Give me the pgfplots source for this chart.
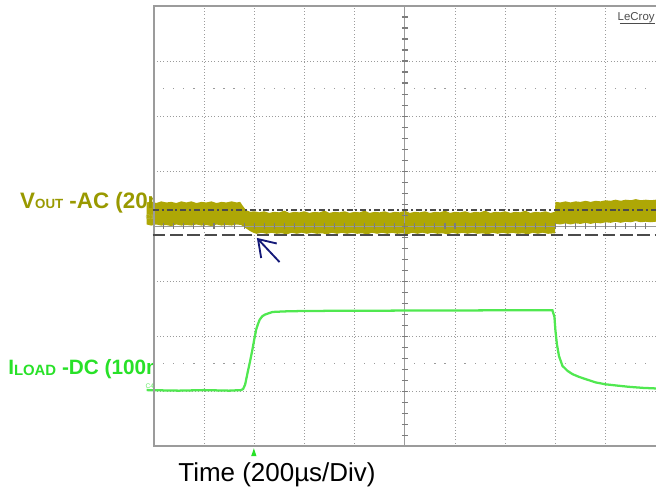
\documentclass[border=0pt]{standalone}
\usepackage{fontspec}
\setmainfont{Liberation Sans}
\usepackage{pgfplots}
\pgfplotsset{compat=1.18}
\usepgfplotslibrary{fillbetween}
\usetikzlibrary{arrows.meta}
\definecolor{voutc}{RGB}{153,153,0}
\definecolor{bandc}{RGB}{174,167,6}
\definecolor{iloadc}{RGB}{40,225,40}
\definecolor{itrace}{RGB}{80,232,80}
\definecolor{gridc}{RGB}{155,155,155}
\definecolor{navyarrow}{RGB}{20,25,120}
\definecolor{refline}{RGB}{75,75,75}

\begin{document}
\begin{tikzpicture}
% pixel frame: 1px = 0.75pt, y down
\begin{scope}[x=0.75pt,y=-0.75pt]
\useasboundingbox (0,0) rectangle (657,496);
% centre cross with small ticks
\draw[gridc, line width=0.8pt] (405.5,6) -- (405.5,447);
\draw[gridc, line width=0.8pt] (154,226.5) -- (657,226.5);
\foreach \i in {1,...,39} \draw[gridc!80!black, line width=0.8pt] (402.5,{6+\i*11.025}) -- (408.5,{6+\i*11.025});
\foreach \i in {1,...,49} \draw[gridc!80!black, line width=0.8pt] ({154+\i*10.06},223.5) -- ({154+\i*10.06},229.5);
% rows of sub-division dots
\foreach \d in {0,...,9} \foreach \k in {1,...,4} {
  \fill[gridc] ({154+50.3*(\d+0.2*\k)-0.6},88.1) rectangle ++(1.2,1.2);
  \fill[gridc] ({154+50.3*(\d+0.2*\k)-0.6},363.7) rectangle ++(1.2,1.2);
}
\end{scope}

\begin{axis}[
  at={(115.5pt,-335.25pt)}, anchor=south west,
  scale only axis, width=377.25pt, height=330.75pt,
  xmin=0, xmax=10, ymin=0, ymax=8,
  xtick={1,...,9}, ytick={1,...,7},
  xticklabels={}, yticklabels={},
  major tick length=0pt,
  grid=major,
  major grid style={gridc, dotted, line width=0.6pt},
  axis line style={draw=none},
  clip=false,
]
% V_OUT noise band, upper and lower envelope
\addplot[name path=vu, draw=none] table {
x y
-0.14 4.43
-0.05 4.45
0.05 4.42
0.15 4.45
0.25 4.43
0.35 4.44
0.45 4.42
0.55 4.45
0.65 4.43
0.75 4.45
0.85 4.42
0.95 4.44
1.05 4.43
1.15 4.45
1.25 4.42
1.35 4.44
1.45 4.43
1.55 4.45
1.65 4.43
1.72 4.44
1.78 4.36
1.84 4.29
1.92 4.26
2.00 4.27
2.10 4.25
2.20 4.27
2.30 4.24
2.40 4.26
2.50 4.25
2.60 4.28
2.70 4.24
2.80 4.26
2.90 4.25
3.00 4.27
3.10 4.24
3.20 4.26
3.30 4.25
3.40 4.28
3.50 4.24
3.60 4.26
3.70 4.25
3.80 4.27
3.90 4.24
4.00 4.26
4.10 4.25
4.20 4.28
4.30 4.24
4.40 4.26
4.50 4.25
4.60 4.27
4.70 4.24
4.80 4.26
4.90 4.25
5.00 4.28
5.10 4.24
5.20 4.26
5.30 4.25
5.40 4.27
5.50 4.24
5.60 4.26
5.70 4.25
5.80 4.28
5.90 4.24
6.00 4.26
6.10 4.25
6.20 4.27
6.30 4.24
6.40 4.26
6.50 4.25
6.60 4.28
6.70 4.24
6.80 4.26
6.90 4.25
7.00 4.27
7.10 4.24
7.20 4.26
7.30 4.25
7.40 4.28
7.50 4.24
7.60 4.26
7.70 4.25
7.80 4.27
7.90 4.24
7.99 4.26
8.00 4.44
8.10 4.43
8.20 4.45
8.30 4.43
8.40 4.45
8.50 4.44
8.60 4.46
8.70 4.44
8.80 4.46
8.90 4.45
9.00 4.47
9.10 4.46
9.20 4.48
9.30 4.46
9.40 4.48
9.50 4.47
9.60 4.49
9.70 4.47
9.80 4.48
9.90 4.47
10.00 4.48
};
\addplot[name path=vl, draw=none] table {
x y
-0.14 4.03
-0.05 4.01
0.05 4.03
0.15 4.01
0.25 4.02
0.35 4.00
0.45 4.03
0.55 4.01
0.65 4.02
0.75 4.01
0.85 4.03
0.95 4.01
1.05 4.02
1.15 4.00
1.25 4.03
1.35 4.01
1.45 4.02
1.55 4.01
1.65 4.03
1.74 4.02
1.82 3.97
1.90 3.92
1.98 3.88
2.05 3.86
2.15 3.88
2.25 3.86
2.35 3.88
2.45 3.86
2.55 3.87
2.65 3.85
2.75 3.88
2.85 3.86
2.95 3.88
3.05 3.86
3.15 3.88
3.25 3.86
3.35 3.87
3.45 3.85
3.55 3.88
3.65 3.86
3.75 3.88
3.85 3.86
3.95 3.88
4.05 3.86
4.15 3.87
4.25 3.85
4.35 3.88
4.45 3.86
4.55 3.88
4.65 3.86
4.75 3.88
4.85 3.86
4.95 3.87
5.05 3.85
5.15 3.88
5.25 3.86
5.35 3.88
5.45 3.86
5.55 3.88
5.65 3.86
5.75 3.87
5.85 3.85
5.95 3.88
6.05 3.86
6.15 3.88
6.25 3.86
6.35 3.88
6.45 3.86
6.55 3.87
6.65 3.85
6.75 3.88
6.85 3.86
6.95 3.88
7.05 3.86
7.15 3.88
7.25 3.86
7.35 3.87
7.45 3.85
7.55 3.88
7.65 3.86
7.75 3.88
7.85 3.86
7.99 3.87
8.00 4.04
8.10 4.03
8.20 4.05
8.30 4.03
8.40 4.05
8.50 4.04
8.60 4.06
8.70 4.04
8.80 4.06
8.90 4.05
9.00 4.07
9.10 4.06
9.20 4.08
9.30 4.06
9.40 4.08
9.50 4.07
9.60 4.09
9.70 4.07
9.80 4.08
9.90 4.07
10.00 4.08
};
\addplot[fill=bandc, draw=none] fill between[of=vu and vl];

% I_LOAD trace
\addplot[itrace, line width=1.7pt] table {
x y
-0.14 1.02
0.50 1.01
1.00 1.02
1.50 1.01
1.74 1.02
1.78 1.04
1.82 1.12
1.87 1.34
1.92 1.55
1.97 1.78
2.01 1.98
2.04 2.12
2.08 2.23
2.11 2.30
2.16 2.36
2.21 2.39
2.30 2.42
2.37 2.44
2.60 2.45
2.84 2.455
3.43 2.46
5.00 2.465
7.00 2.47
7.94 2.47
7.98 2.35
8.00 2.10
8.03 1.85
8.07 1.64
8.14 1.46
8.24 1.37
8.34 1.31
8.47 1.26
8.60 1.22
8.80 1.16
9.00 1.125
9.25 1.10
9.46 1.08
9.75 1.06
10.00 1.05
};
\end{axis}

\begin{scope}[x=0.75pt,y=-0.75pt]
% screen border
\draw[gridc, line width=1.5pt] (657,6) -- (154,6) -- (154,447) -- (657,447);
% cursor lines
\draw[refline, line width=1.3pt, dash pattern=on 4.5pt off 2.2pt on 1.5pt off 2.2pt] (153,210.7) -- (657,210.7);
\draw[refline, line width=1.3pt, dash pattern=on 9.5pt off 3.5pt] (153,235.7) -- (657,235.7);
% arrow
\draw[navyarrow, line width=1.4pt, -{Straight Barb[length=12pt,width=16pt]}] (280,262.5) -- (257.3,238.3);
% channel tags
\node[anchor=base west, inner sep=0, text=voutc!70, font=\fontsize{5}{5}\selectfont] at (145.5,220) {C1};
\node[anchor=base west, inner sep=0, text=iloadc!70, font=\fontsize{5}{5}\selectfont] at (145.5,389) {C4};
% trigger marker
\fill[iloadc] (251.6,457) -- (257,457) -- (254.3,449) -- cycle;
% LeCroy logo
\node[anchor=base east, inner sep=0, text=black!70, font=\fontsize{8.6}{9}\selectfont] at (656,21) {LeCroy};
\draw[black!70, line width=0.8pt] (621,23.5) -- (656,23.5);
% axis title
\node[anchor=base, inner sep=0, font=\fontsize{19.5}{21}\selectfont] at (277.5,482) {Time (200µs/Div)};
% channel labels, cut off at the screen edge
\begin{scope}
\clip (0,0) rectangle (153,496);
\node[anchor=base west, inner sep=0, text=voutc, font=\bfseries\fontsize{16.8}{18}\selectfont] at (20,209) {V{\fontsize{10}{10}\selectfont OUT} -AC (20mV/Div)};
\node[anchor=base west, inner sep=0, text=iloadc, font=\bfseries\fontsize{15.6}{17}\selectfont] at (8,375) {I\raisebox{-1.1pt}{\fontsize{11.2}{12}\selectfont LOAD} -DC (100mA/Div)};
\end{scope}
\end{scope}
\end{tikzpicture}
\end{document}
